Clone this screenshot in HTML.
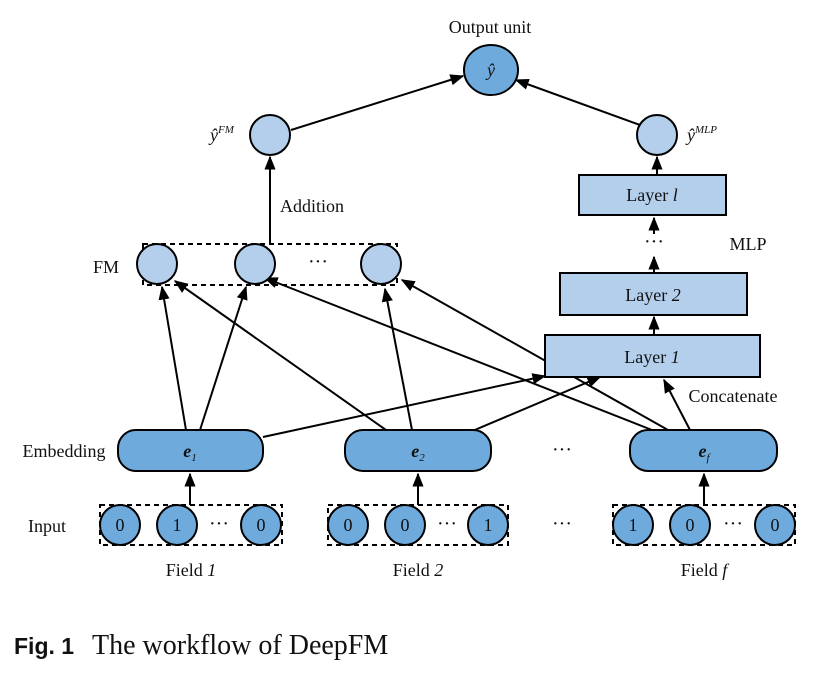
<!DOCTYPE html>
<html><head><meta charset="utf-8"><style>
html,body{margin:0;padding:0;background:#fff}
svg{display:block}
text{font-family:"Liberation Serif",serif;fill:#111}
</style></head><body>
<svg width="815" height="677" viewBox="0 0 815 677">
<defs><marker id="ah" viewBox="0 0 10 10" refX="9" refY="5" markerWidth="7" markerHeight="7" orient="auto-start-reverse"><path d="M0,1 L10,5 L0,9 z" fill="#000"/></marker></defs>
<g stroke="#000" stroke-width="2" fill="none" marker-end="url(#ah)">
<line x1="291" y1="130" x2="463" y2="76"/>
<line x1="640" y1="125" x2="516" y2="80"/>
<line x1="270" y1="244" x2="270" y2="157"/>
<line x1="657" y1="175" x2="657" y2="157"/>
<line x1="654" y1="234" x2="654" y2="218"/>
<line x1="654" y1="273" x2="654" y2="257"/>
<line x1="654" y1="335" x2="654" y2="317"/>
<line x1="186" y1="430" x2="162" y2="287"/>
<line x1="200" y1="430" x2="246" y2="287"/>
<line x1="386" y1="430" x2="175" y2="281"/>
<line x1="412" y1="430" x2="385" y2="289"/>
<line x1="652" y1="430" x2="265" y2="278"/>
<line x1="668" y1="430" x2="402" y2="280"/>
<line x1="263" y1="437" x2="545" y2="376"/>
<line x1="470" y1="432" x2="600" y2="377"/>
<line x1="690" y1="430" x2="664" y2="380"/>
<line x1="190" y1="505" x2="190" y2="474"/>
<line x1="418" y1="505" x2="418" y2="474"/>
<line x1="704" y1="505" x2="704" y2="474"/>
</g>
<g stroke="#000" stroke-width="2">
<ellipse cx="491" cy="70" rx="27" ry="25" fill="#6eaadc"/>
<ellipse cx="270" cy="135" rx="20" ry="20" fill="#b4cfec"/>
<ellipse cx="657" cy="135" rx="20" ry="20" fill="#b4cfec"/>
<rect x="579" y="175" width="147" height="40" fill="#b4cfec"/>
<rect x="560" y="273" width="187" height="42" fill="#b4cfec"/>
<rect x="545" y="335" width="215" height="42" fill="#b4cfec"/>
<rect x="143" y="244" width="254" height="41" fill="none" stroke-dasharray="5,4"/>
<ellipse cx="157" cy="264" rx="20" ry="20" fill="#b4cfec"/>
<ellipse cx="255" cy="264" rx="20" ry="20" fill="#b4cfec"/>
<ellipse cx="381" cy="264" rx="20" ry="20" fill="#b4cfec"/>
<rect x="118" y="430" width="145" height="41" rx="18" fill="#6eaadc"/>
<rect x="345" y="430" width="146" height="41" rx="18" fill="#6eaadc"/>
<rect x="630" y="430" width="147" height="41" rx="18" fill="#6eaadc"/>
<g fill="none" stroke-dasharray="5,4">
<rect x="100" y="505" width="182" height="40"/>
<rect x="328" y="505" width="180" height="40"/>
<rect x="613" y="505" width="182" height="40"/>
</g>
<g fill="#6eaadc">
<ellipse cx="120" cy="525" rx="20" ry="20"/><ellipse cx="177" cy="525" rx="20" ry="20"/><ellipse cx="261" cy="525" rx="20" ry="20"/>
<ellipse cx="348" cy="525" rx="20" ry="20"/><ellipse cx="405" cy="525" rx="20" ry="20"/><ellipse cx="488" cy="525" rx="20" ry="20"/>
<ellipse cx="633" cy="525" rx="20" ry="20"/><ellipse cx="690" cy="525" rx="20" ry="20"/><ellipse cx="775" cy="525" rx="20" ry="20"/>
</g>
</g>
<g font-size="18" text-anchor="middle">
<text x="490" y="33">Output  unit</text>
<text x="491" y="76" font-style="italic">ŷ</text>
<text x="222" y="141" font-style="italic">ŷ<tspan font-size="11" dy="-8">FM</tspan></text>
<text x="702" y="141" font-style="italic">ŷ<tspan font-size="11" dy="-8">MLP</tspan></text>
<text x="312" y="212">Addition</text>
<text x="652" y="201">Layer <tspan font-style="italic">l</tspan></text>
<text x="654" y="248" font-size="20">···</text>
<text x="748" y="250">MLP</text>
<text x="653" y="301">Layer <tspan font-style="italic">2</tspan></text>
<text x="652" y="363">Layer <tspan font-style="italic">1</tspan></text>
<text x="318" y="268" font-size="20">···</text>
<text x="106" y="273">FM</text>
<text x="733" y="402">Concatenate</text>
<text x="64" y="457">Embedding</text>
<text x="190" y="457" font-weight="bold" font-style="italic">e<tspan font-size="11" dy="4" font-weight="normal">1</tspan></text>
<text x="418" y="457" font-weight="bold" font-style="italic">e<tspan font-size="11" dy="4" font-weight="normal">2</tspan></text>
<text x="704" y="457" font-weight="bold" font-style="italic">e<tspan font-size="11" dy="4" font-weight="normal">f</tspan></text>
<text x="562" y="456" font-size="20">···</text>
<text x="47" y="532">Input</text>
<text x="120" y="531">0</text><text x="177" y="531">1</text><text x="219" y="530" font-size="20">···</text><text x="261" y="531">0</text>
<text x="348" y="531">0</text><text x="405" y="531">0</text><text x="447" y="530" font-size="20">···</text><text x="488" y="531">1</text>
<text x="562" y="530" font-size="20">···</text>
<text x="633" y="531">1</text><text x="690" y="531">0</text><text x="733" y="530" font-size="20">···</text><text x="775" y="531">0</text>
<text x="191" y="576">Field <tspan font-style="italic">1</tspan></text>
<text x="418" y="576">Field <tspan font-style="italic">2</tspan></text>
<text x="704" y="576">Field <tspan font-style="italic">f</tspan></text>
</g>
<text x="14" y="654" font-size="23" font-weight="bold" style="font-family:'Liberation Sans',sans-serif">Fig. 1</text>
<text x="92" y="654" font-size="28">The workflow of DeepFM</text>
</svg>
</body></html>
